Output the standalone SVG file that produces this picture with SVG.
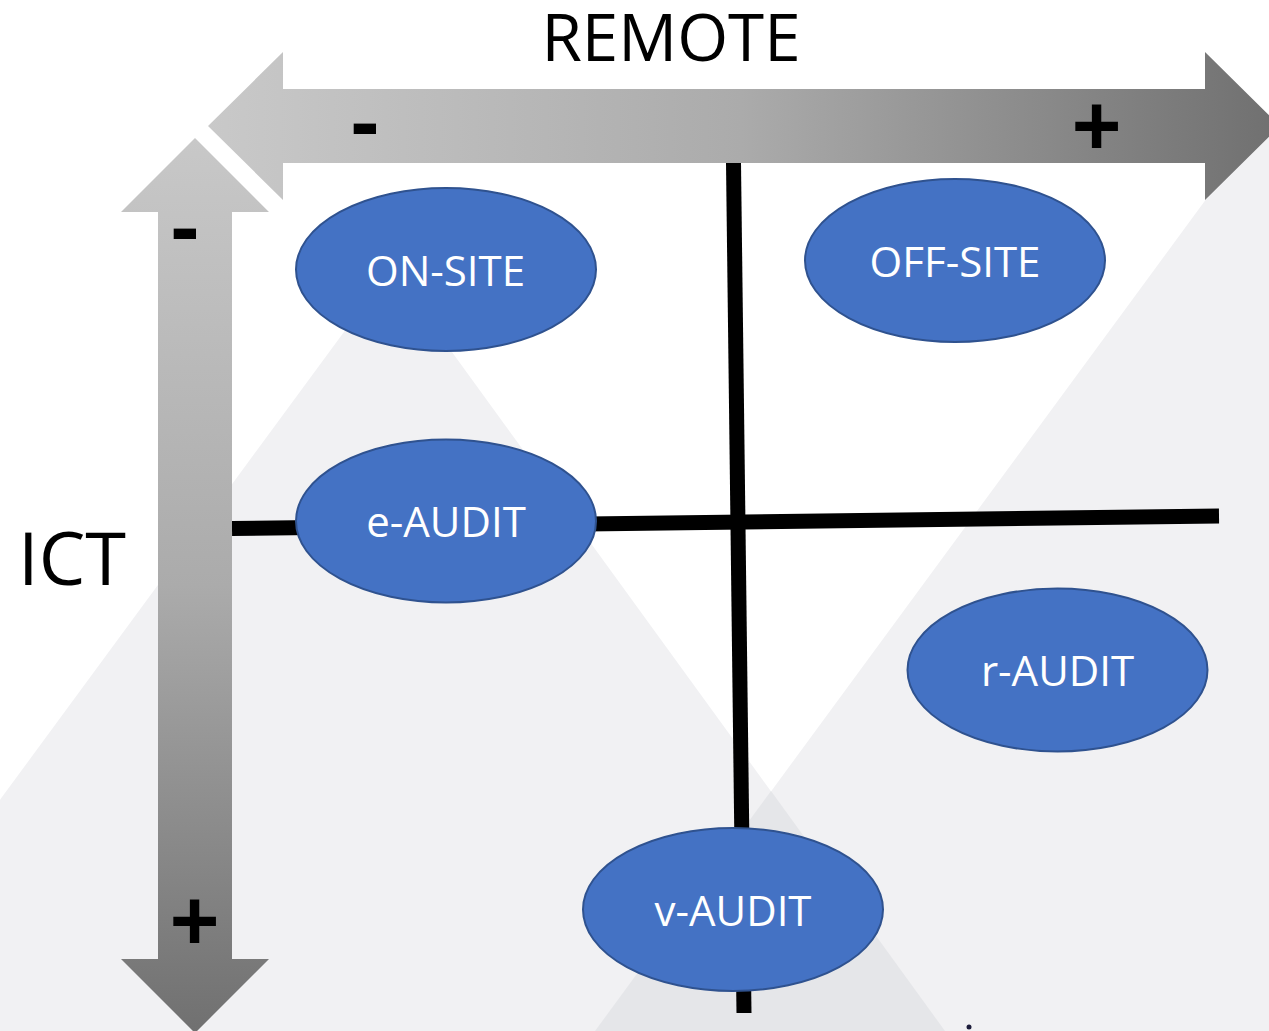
<svg xmlns="http://www.w3.org/2000/svg" width="1269" height="1031" viewBox="0 0 1269 1031">
  <defs>
    <linearGradient id="gH" gradientUnits="userSpaceOnUse" x1="208" y1="0" x2="1275" y2="0">
      <stop offset="0" stop-color="#c9c9c9"/>
      <stop offset="0.5" stop-color="#ababab"/>
      <stop offset="1" stop-color="#707070"/>
    </linearGradient>
    <linearGradient id="gV" gradientUnits="userSpaceOnUse" x1="0" y1="138" x2="0" y2="1033">
      <stop offset="0" stop-color="#c8c8c8"/>
      <stop offset="0.5" stop-color="#ababab"/>
      <stop offset="1" stop-color="#707070"/>
    </linearGradient>
    <style>
      .bg { fill: #f1f1f3; }
      .bg2 { fill: #e5e6e9; }
      .node { fill: #4472c4; stroke: #2f528f; stroke-width: 2; }
      .lbl { font-family: "Open Sans", "Liberation Sans", sans-serif; font-size: 42px; fill: #ffffff; text-anchor: middle; }
      .axis { font-family: "Open Sans", "Liberation Sans", sans-serif; fill: #000000; text-anchor: middle; }
      .sign { font-family: "Liberation Sans", Arial, sans-serif; font-weight: bold; fill: #000000; text-anchor: middle; }
      .conn { stroke: #000000; stroke-width: 15; fill: none; }
    </style>
  </defs>

  <g id="background">
    <rect x="0" y="0" width="1269" height="1031" fill="#ffffff"/>
    <polygon class="bg" points="391,268 945,1031 -170,1031"/>
    <polygon class="bg" points="595,1031 1290,85 1300,1031"/>
    <polygon class="bg2" points="771,791 945,1031 595,1031"/>
    <circle cx="969" cy="1027" r="2.5" fill="#1c1c3a"/>
  </g>

  <g id="connectors">
    <line class="conn" x1="232" y1="528.5" x2="1219" y2="516"/>
    <line class="conn" x1="733.5" y1="163" x2="744" y2="1013"/>
  </g>

  <g id="axis-remote">
    <polygon fill="url(#gH)" points="208,126 283,52 283,89 1205,89 1205,52 1280,126 1205,200 1205,163 283,163 283,200"/>
    <text class="sign" x="365" y="151" font-size="88">-</text>
    <text class="sign" x="1096.5" y="154.5" font-size="85">+</text>
    <text class="axis" x="671" y="61" font-size="65.5">REMOTE</text>
  </g>

  <g id="axis-ict">
    <polygon fill="url(#gV)" points="195,138 269,212 232,212 232,959 269,959 195,1033 121,959 158,959 158,212 121,212"/>
    <text class="sign" x="185" y="256" font-size="88">-</text>
    <text class="sign" x="194.5" y="950" font-size="85">+</text>
    <text class="axis" x="72" y="585" font-size="74">ICT</text>
  </g>

  <g id="node-onsite">
    <ellipse class="node" cx="446" cy="269.5" rx="150" ry="81.5"/>
    <text class="lbl" x="445.5" y="285.5">ON-SITE</text>
  </g>
  <g id="node-offsite">
    <ellipse class="node" cx="955" cy="260.5" rx="150" ry="81.5"/>
    <text class="lbl" x="955" y="276.5">OFF-SITE</text>
  </g>
  <g id="node-eaudit">
    <ellipse class="node" cx="446" cy="521" rx="150" ry="81.5"/>
    <text class="lbl" x="446" y="537">e-AUDIT</text>
  </g>
  <g id="node-raudit">
    <ellipse class="node" cx="1057.5" cy="670" rx="150" ry="81.5"/>
    <text class="lbl" x="1057.5" y="686">r-AUDIT</text>
  </g>
  <g id="node-vaudit">
    <ellipse class="node" cx="733" cy="909.5" rx="150" ry="81.5"/>
    <text class="lbl" x="733" y="925.5">v-AUDIT</text>
  </g>
</svg>
